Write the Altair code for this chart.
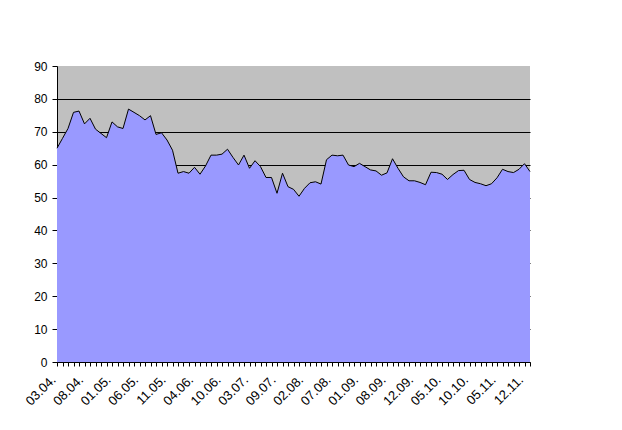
import altair as alt
import pandas as pd

# Values (one per category, left to right)
values = [
    65.0, 68.0, 71.0, 75.9, 76.3, 72.4, 74.1, 70.8, 69.5, 68.2,
    73.0, 71.5, 71.0, 76.9, 75.9, 74.9, 73.6, 74.9, 69.2, 69.7,
    67.5, 64.4, 57.4, 57.9, 57.4, 59.2, 57.1, 59.6, 62.9, 62.9,
    63.2, 64.7, 62.2, 59.9, 62.9, 58.9, 61.2, 59.4, 56.1, 56.1,
    51.3, 57.4, 53.3, 52.5, 50.4, 52.8, 54.5, 54.8, 54.1, 61.5,
    62.9, 62.7, 62.9, 59.9, 59.4, 60.4, 59.4, 58.4, 58.1, 56.8,
    57.5, 61.8, 58.9, 56.3, 55.1, 55.1, 54.6, 53.9, 57.7, 57.6,
    57.1, 55.5, 57.0, 58.2, 58.3, 55.5, 54.6, 54.2, 53.6, 54.2,
    56.0, 58.6, 57.9, 57.6, 58.6, 60.3, 57.9,
]

# Category labels shown on the axis (every 5th category)
tick_labels = [
    "03.04.", "08.04.", "01.05.", "06.05.", "11.05.", "04.06.",
    "10.06.", "03.07.", "09.07.", "02.08.", "07.08.", "01.09.",
    "08.09.", "12.09.", "05.10.", "10.10.", "05.11.", "12.11.",
]
label_every = 5
y_ticks = [0, 10, 20, 30, 40, 50, 60, 70, 80, 90]

df = pd.DataFrame({"i": list(range(len(values))), "v": values})

arr = "[" + ",".join(f"'{s}'" for s in tick_labels) + "]"
label_expr = (
    f"datum.value % {label_every} == 0 && datum.value / {label_every} < {len(tick_labels)}"
    f" ? {arr}[datum.value / {label_every}] : ''"
)

FONT = "Liberation Sans"

chart = (
    alt.Chart(df)
    .mark_area(color="#9999FF", opacity=1,
               line={"color": "black", "strokeWidth": 1})
    .encode(
        x=alt.X(
            "i:Q",
            scale=alt.Scale(domain=[0, len(values) - 1], nice=False, zero=False),
            axis=alt.Axis(
                title=None,
                values=list(range(len(values))),
                labelExpr=label_expr,
                labelAngle=315,
                labelOverlap=False,
                labelFont=FONT,
                labelFontSize=13,
                labelColor="black",
                labelPadding=7,
                labelOffset=-8,
                tickSize=4,
                tickColor="black",
                domainColor="black",
                grid=False,
            ),
        ),
        y=alt.Y(
            "v:Q",
            scale=alt.Scale(domain=[0, 90], nice=False),
            axis=alt.Axis(
                title=None,
                values=y_ticks,
                labelFont=FONT,
                labelFontSize=12,
                labelColor="black",
                labelPadding=5,
                tickSize=5,
                tickColor="black",
                domainColor="black",
                grid=True,
                gridColor=alt.condition("datum.value == 90", alt.value("transparent"), alt.value("black")),
                gridOpacity=1,
                gridWidth=1,
            ),
        ),
    )
    .properties(
        width=473,
        height=296,
        padding={"left": 49, "top": 58, "right": 84, "bottom": 60},
        autosize=alt.AutoSizeParams(type="none"),
        background="white",
    )
    .configure_view(fill="#C0C0C0", stroke=None)
)

chart.save("out.html", embed_options={"renderer": "svg", "actions": False})
